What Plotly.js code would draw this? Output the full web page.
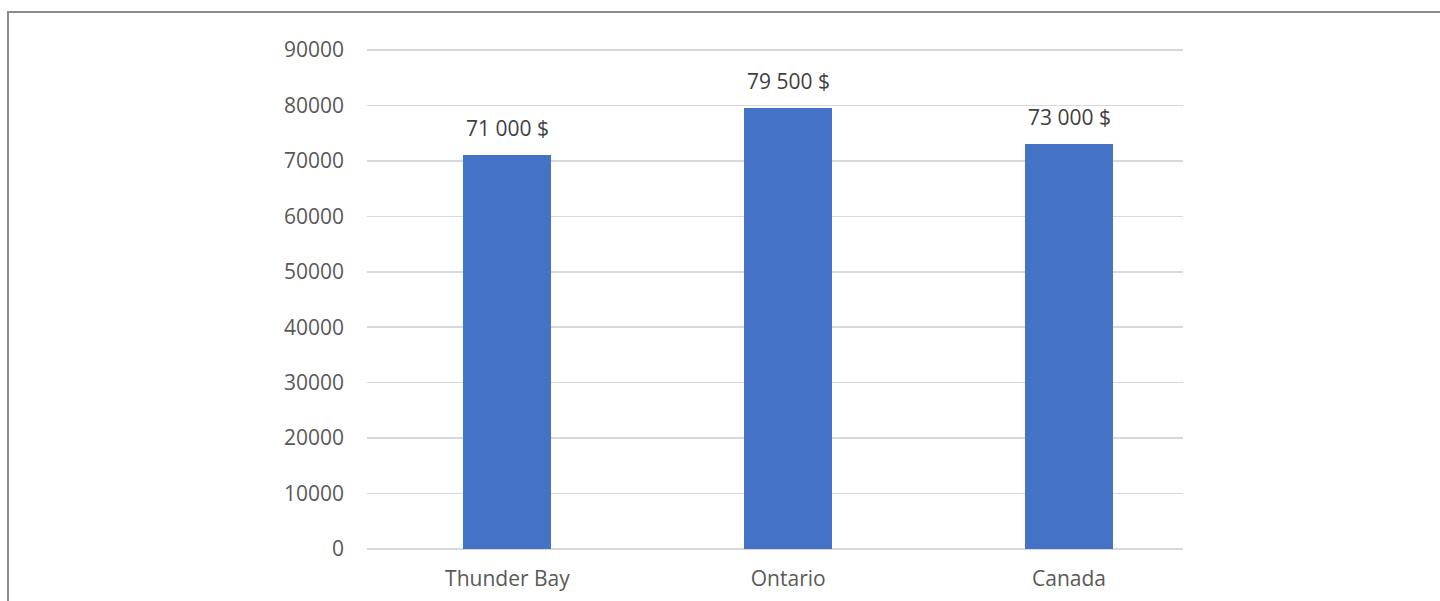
<!DOCTYPE html>
<html>
<head>
<meta charset="utf-8">
<script src="https://cdn.plot.ly/plotly-3.0.1.min.js"></script>
<style>
html,body{margin:0;padding:0;background:#fff;}
#wrap{position:absolute;left:0;top:0;width:1440px;height:601px;overflow:hidden;}
#frame{position:absolute;left:7px;top:11px;width:1440px;height:700px;border-left:2px solid #8c8c8c;border-top:2px solid #8c8c8c;box-sizing:border-box;pointer-events:none;}
#chart{position:absolute;left:0;top:0;width:1440px;height:601px;}
</style>
</head>
<body>
<div id="wrap">
<div id="chart"></div>
<div id="frame"></div>
</div>
<script>
const categories = ["Thunder Bay", "Ontario", "Canada"];
const values = [71000, 79500, 73000];
const valueLabels = ["71 000 $", "79 500 $", "73 000 $"];
const yTicks = [0, 10000, 20000, 30000, 40000, 50000, 60000, 70000, 80000, 90000];

const trace = {
  type: "bar",
  x: categories,
  y: values,
  width: 0.313,
  marker: {color: "#4472C4"},
  hoverinfo: "x+y"
};

const annotations = categories.map((c, i) => ({
  x: c, y: values[i], xref: "x", yref: "y",
  text: valueLabels[i], showarrow: false,
  yanchor: "bottom", yshift: 11,
  font: {family: "Open Sans, sans-serif", size: 21, color: "#404040"}
}));

const layout = {
  width: 1440, height: 601,
  margin: {l: 367, r: 257, t: 48, b: 52, pad: 0},
  paper_bgcolor: "#ffffff", plot_bgcolor: "#ffffff",
  showlegend: false,
  bargap: 0,
  xaxis: {
    type: "category",
    range: [-0.5, 2.406],
    showgrid: false, zeroline: false, showline: false,
    ticks: "", ticklabelstandoff: 15,
    tickfont: {family: "Open Sans, sans-serif", size: 21, color: "#595959"}
  },
  yaxis: {
    range: [0, 90360],
    tickvals: yTicks, tickformat: "d",
    showgrid: true, gridcolor: "#d9d9d9", gridwidth: 1.5,
    zeroline: true, zerolinecolor: "#d9d9d9", zerolinewidth: 1.5,
    showline: false, ticks: "", ticklabelstandoff: 22,
    tickfont: {family: "Open Sans, sans-serif", size: 21, color: "#595959"}
  },
  annotations: annotations
};

Plotly.newPlot("chart", [trace], layout, {displayModeBar: false, staticPlot: true});
</script>
</body>
</html>
